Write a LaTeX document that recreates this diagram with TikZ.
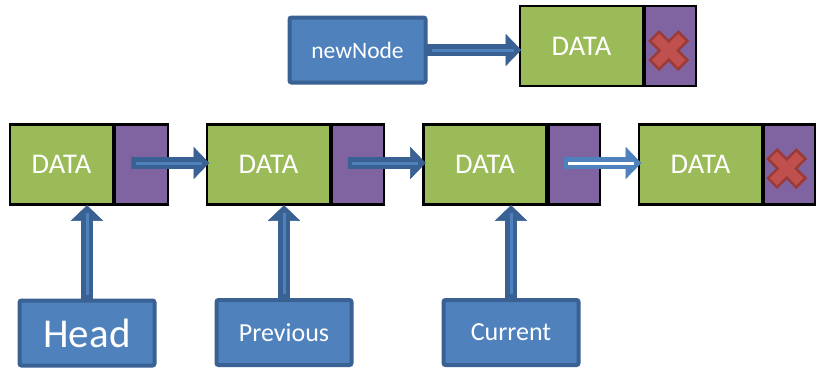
\documentclass[tikz,border=0pt]{standalone}
\usepackage{fontspec}
\setmainfont{Carlito}
\usetikzlibrary{calc}
\definecolor{dgreen}{HTML}{9BBB59}
\definecolor{dpurple}{HTML}{8064A2}
\definecolor{bfill}{HTML}{4F81BD}
\definecolor{bedge}{HTML}{3A6193}
\definecolor{xfill}{HTML}{C0504D}
\definecolor{xedge}{HTML}{9B3B38}
\tikzset{
  datacell/.style={draw=black, line width=2.2pt, fill=dgreen, minimum width=123pt, minimum height=80pt, inner sep=0pt, text=white, font=\fontsize{28.5}{32}\selectfont},
  ptrcell/.style={draw=black, line width=2.2pt, fill=dpurple, minimum width=51pt, minimum height=80pt, inner sep=0pt, anchor=west},
  varbox/.style={draw=bedge, line width=4pt, fill=bfill, rounded corners=2pt, minimum width=135pt, minimum height=65pt, inner sep=0pt, text=white, font=\fontsize{26}{30}\selectfont},
  blockarrow/.style={fill=#1, draw=#1, line width=0.6pt, line join=miter,
    to path={($(\tikztostart)!5.5pt!90:(\tikztotarget)$)
      -- ($($(\tikztotarget)!15pt!(\tikztostart)$)!5.5pt!90:(\tikztotarget)$)
      -- ($($(\tikztotarget)!15pt!(\tikztostart)$)!15.5pt!90:(\tikztotarget)$)
      -- (\tikztotarget)
      -- ($($(\tikztotarget)!15pt!(\tikztostart)$)!15.5pt!-90:(\tikztotarget)$)
      -- ($($(\tikztotarget)!15pt!(\tikztostart)$)!5.5pt!-90:(\tikztotarget)$)
      -- ($(\tikztostart)!5.5pt!-90:(\tikztotarget)$) -- cycle}},
  stripe/.style={draw=#1, line width=3pt,
    to path={($(\tikztostart)!4pt!(\tikztotarget)$) -- ($(\tikztotarget)!7pt!(\tikztostart)$)}},
  nullx/.pic={\path[fill=xfill, draw=xedge, line width=2.5pt, rotate=45]
    (6.5,20) -- (6.5,6.5) -- (20,6.5) -- (20,-6.5) -- (6.5,-6.5) -- (6.5,-20)
    -- (-6.5,-20) -- (-6.5,-6.5) -- (-20,-6.5) -- (-20,6.5) -- (-6.5,6.5) -- (-6.5,20) -- cycle;}
}
\begin{document}
\begin{tikzpicture}[x=1pt,y=-1pt]
\useasboundingbox (0,0) rectangle (817,368);
% top node
\node[datacell] (tg) at (581.5,46) {DATA};
\node[ptrcell] (tp) at (tg.east) {};
\node[varbox, font=\fontsize{23.5}{28}\selectfont, minimum width=136pt] (nn) at (357.5,50) {newNode};
% list
\node[datacell, minimum width=103pt] (g1) at (61.5,164.5) {DATA};
\node[ptrcell, minimum width=53pt] (p1) at (g1.east) {};
\node[datacell] (g2) at (268.5,164.5) {DATA};
\node[ptrcell, minimum width=52pt] (p2) at (g2.east) {};
\node[datacell] (g3) at (485,164.5) {DATA};
\node[ptrcell] (p3) at (g3.east) {};
\node[datacell] (g4) at (700.5,164.5) {DATA};
\node[ptrcell] (p4) at (g4.east) {};
% pointer boxes
\node[varbox, font=\fontsize{41}{45}\selectfont] (hd) at (87,333) {Head};
\node[varbox] (pv) at (284,332.5) {Previous};
\node[varbox] (cu) at (511,332.5) {Current};
% null marks
\pic at ($(tp.center)+(-2,4.5)$) {nullx};
\pic at ($(p4.center)+(-3,4)$) {nullx};
% arrows
\draw[blockarrow=bedge] (nn.east) to ($(nn.east -| tg.west)+(2,0)$);
\draw[stripe=bfill] (nn.east) to ($(nn.east -| tg.west)+(2,0)$);
\draw[blockarrow=bedge] ($(p1.center)+(-10,-1.5)$) to ($(g2.west)+(3,-1.5)$);
\draw[stripe=bfill] ($(p1.center)+(-10,-1.5)$) to ($(g2.west)+(3,-1.5)$);
\draw[blockarrow=bedge] ($(p2.center)+(-10,-1.5)$) to ($(g3.west)+(3,-1.5)$);
\draw[stripe=bfill] ($(p2.center)+(-10,-1.5)$) to ($(g3.west)+(3,-1.5)$);
\draw[blockarrow=bfill] ($(p3.center)+(-10,-1.5)$) to ($(g4.west)+(3,-1.5)$);
\draw[stripe=white] ($(p3.center)+(-10,-1.5)$) to ($(g4.west)+(3,-1.5)$);
\draw[blockarrow=bedge] (hd.north) to (hd.north |- g1.south);
\draw[stripe=bfill] (hd.north) to (hd.north |- g1.south);
\draw[blockarrow=bedge] (pv.north) to (pv.north |- g2.south);
\draw[stripe=bfill] (pv.north) to (pv.north |- g2.south);
\draw[blockarrow=bedge] (cu.north) to (cu.north |- g3.south);
\draw[stripe=bfill] (cu.north) to (cu.north |- g3.south);
\end{tikzpicture}
\end{document}
